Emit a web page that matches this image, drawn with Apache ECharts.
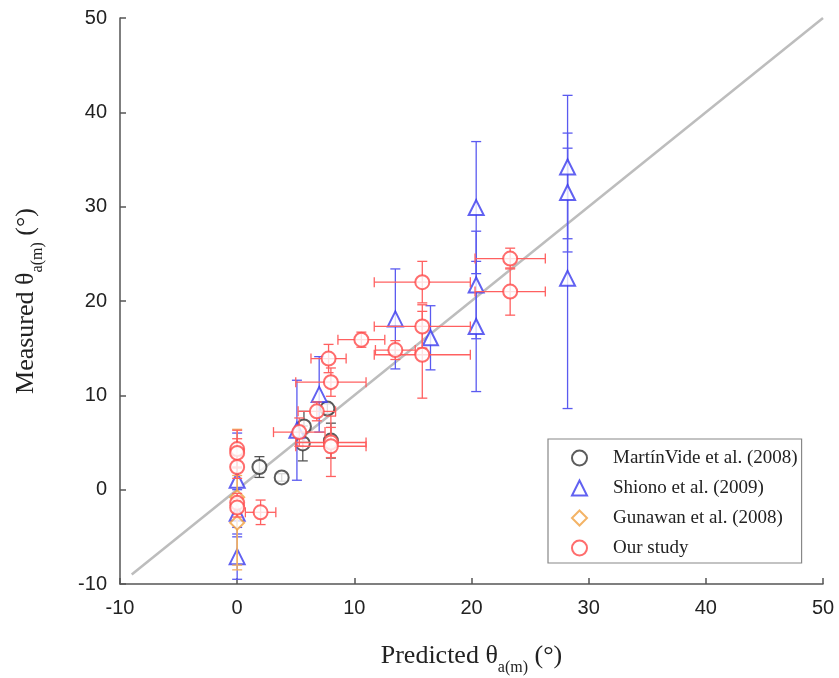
<!DOCTYPE html>
<html>
<head>
<meta charset="utf-8">
<script src="https://cdn.jsdelivr.net/npm/echarts@6/dist/echarts.min.js"></script>
<style>html,body{margin:0;padding:0;background:#fff}#c{width:839px;height:678px}</style>
</head>
<body>
<div id="c"></div>
<script>
// ---- data ----
const seriesNames = ['MartínVide et al. (2008)', 'Shiono et al. (2009)', 'Gunawan et al. (2008)', 'Our study'];
const tickValues = [-10, 0, 10, 20, 30, 40, 50];

const martinX = [1.9, 3.8, 5.7, 7.7, 5.6, 8.0];
const martinY = [2.4, 1.3, 6.7, 8.6, 4.9, 5.2];
const martinYErr = [1.1, 0.4, 1.6, 0.5, 1.85, 1.85];

const shionoX = [0, 0, 0, 5.1, 7.0, 13.5, 16.5, 20.4, 20.4, 20.4, 28.2, 28.2, 28.2];
const shionoY = [1.0, -2.5, -7.1, 6.3, 10.1, 18.1, 16.1, 29.9, 21.7, 17.3, 34.2, 31.5, 22.4];
const shionoYErr = [5.0, 2.5, 2.4, 5.3, 4.0, 5.3, 3.4, 7.0, 5.7, 6.9, 7.6, 6.3, 13.8];

const gunawanX = [0, 0];
const gunawanY = [-0.8, -3.5];
const gunawanYErr = [7.2, 5.0];

const ourX = [0, 0, 0, 0, 0, 2.0, 5.3, 6.8, 8.0, 7.8, 8.0, 8.0, 10.6, 13.5, 15.8, 15.8, 15.8, 23.3, 23.3];
const ourY = [4.3, 3.9, 2.4, -1.4, -1.9, -2.4, 6.1, 8.3, 11.4, 13.9, 5.0, 4.6, 15.9, 14.8, 22.0, 17.3, 14.3, 24.5, 21.0];
const ourXErr = [0, 0, 0, 0, 0, 1.3, 2.2, 1.6, 3.0, 1.5, 3.0, 3.0, 2.0, 1.7, 4.1, 4.1, 4.1, 3.0, 3.0];
const ourYErr = [2.0, 1.5, 1.2, 1.0, 1.0, 1.3, 1.5, 1.0, 1.5, 1.5, 1.6, 3.2, 0.8, 1.0, 2.2, 2.3, 4.6, 1.1, 2.5];

const lineX = [-9, 50];
const lineY = [-9, 50];

// ---- build ----
const colors = ['#333333', '#3a3aee', '#f0a040', '#ff4848'];
const barColors = ['#555555', '#5a5af0', '#f2b060', '#ff6060'];
const symbols = ['emptyCircle', 'emptyTriangle', 'emptyDiamond', 'emptyCircle'];
const sets = [
  {x: martinX, y: martinY, ex: null, ey: martinYErr},
  {x: shionoX, y: shionoY, ex: null, ey: shionoYErr},
  {x: gunawanX, y: gunawanY, ex: null, ey: gunawanYErr},
  {x: ourX, y: ourY, ex: ourXErr, ey: ourYErr}
];

function errRender(color) {
  return function (params, api) {
    const x = api.value(0), y = api.value(1), ex = api.value(2), ey = api.value(3);
    const cap = 5;
    const st = {stroke: color, lineWidth: 1.3};
    const ch = [];
    if (ey > 0) {
      const a = api.coord([x, y - ey]), b = api.coord([x, y + ey]);
      ch.push({type: 'line', shape: {x1: a[0], y1: a[1], x2: b[0], y2: b[1]}, style: st});
      ch.push({type: 'line', shape: {x1: a[0] - cap, y1: a[1], x2: a[0] + cap, y2: a[1]}, style: st});
      ch.push({type: 'line', shape: {x1: b[0] - cap, y1: b[1], x2: b[0] + cap, y2: b[1]}, style: st});
    }
    if (ex > 0) {
      const a = api.coord([x - ex, y]), b = api.coord([x + ex, y]);
      ch.push({type: 'line', shape: {x1: a[0], y1: a[1], x2: b[0], y2: b[1]}, style: st});
      ch.push({type: 'line', shape: {x1: a[0], y1: a[1] - cap, x2: a[0], y2: a[1] + cap}, style: st});
      ch.push({type: 'line', shape: {x1: b[0], y1: b[1] - cap, x2: b[0], y2: b[1] + cap}, style: st});
    }
    return {type: 'group', children: ch};
  };
}

const series = [{
  type: 'line', silent: true, symbol: 'none', z: 1,
  data: lineX.map((v, i) => [v, lineY[i]]),
  lineStyle: {color: '#bdbdbd', width: 2.5}
}];
sets.forEach((s, k) => {
  series.push({
    type: 'custom', silent: true, z: 2 + k * 2,
    renderItem: errRender(barColors[k]),
    encode: {x: 0, y: 1},
    data: s.x.map((v, i) => [v, s.y[i], s.ex ? s.ex[i] : 0, s.ey[i]])
  });
  series.push({
    type: 'scatter', name: seriesNames[k], z: 3 + k * 2,
    symbol: symbols[k], symbolSize: k === 1 ? 15 : 14,
    itemStyle: {color: colors[k], borderWidth: 1.3},
    data: s.x.map((v, i) => [v, s.y[i]])
  });
});

const axisCommon = {
  type: 'value', min: tickValues[0], max: tickValues[tickValues.length - 1], interval: 10,
  splitLine: {show: false},
  axisLine: {onZero: false, lineStyle: {color: '#555', width: 1.5}},
  axisTick: {inside: true, length: 6, lineStyle: {color: '#555', width: 1.5}},
  nameLocation: 'middle',
  nameTextStyle: {
    fontFamily: 'Liberation Serif', fontSize: 26, color: '#222', lineHeight: 40,
    rich: {
      m: {fontFamily: 'Liberation Serif', fontSize: 26, color: '#222', lineHeight: 40},
      s: {fontFamily: 'Liberation Serif', fontSize: 16, color: '#222', lineHeight: 40, verticalAlign: 'bottom'}
    }
  }
};

const chart = echarts.init(document.getElementById('c'), null, {renderer: 'canvas'});
chart.setOption({
  animation: false,
  grid: {left: 120, right: 16, top: 18, bottom: 94, containLabel: false, outerBoundsMode: 'none'},
  xAxis: Object.assign({}, axisCommon, {
    name: '{m|Predicted θ}{s|a(m)}{m| (°)}', nameGap: 52,
    axisLabel: {fontFamily: 'Liberation Sans', fontSize: 20, color: '#222', margin: 14}
  }),
  yAxis: Object.assign({}, axisCommon, {
    name: '{m|Measured θ}{s|a(m)}{m| (°)}', nameGap: 74,
    axisLabel: {fontFamily: 'Liberation Sans', fontSize: 20, color: '#222', margin: 13}
  }),
  legend: {
    data: seriesNames.map((n, k) => ({name: n, icon: symbols[k]})),
    orient: 'vertical', left: 548, top: 439,
    itemWidth: 15, itemHeight: 15, itemGap: 10,
    padding: [9, 4, 5, 23],
    borderColor: '#888', borderWidth: 1.2,
    textStyle: {fontFamily: 'Liberation Serif', fontSize: 19, color: '#222', lineHeight: 20, padding: [0, 0, 0, 21]}
  },
  series: series
});
</script>
</body>
</html>
